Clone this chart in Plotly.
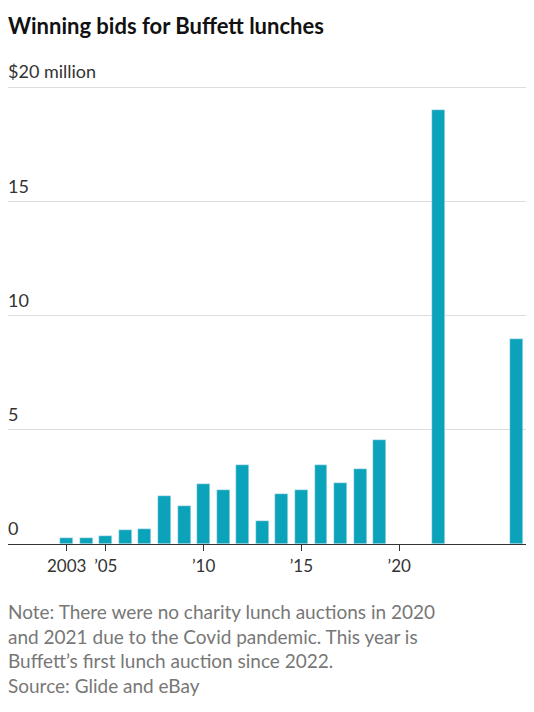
import plotly.graph_objects as go

years = [2003,2004,2005,2006,2007,2008,2009,2010,2011,2012,2013,2014,2015,2016,2017,2018,2019,2022,2026]
bids = [0.25,0.25,0.35,0.62,0.65,2.1,1.68,2.63,2.35,3.46,1.0,2.17,2.35,3.46,2.68,3.3,4.57,19.0,9.0]
ytick_vals = [0,5,10,15,20]
ytick_text = ["0","5","10","15","$20 million"]
xtick_vals = [2003,2005,2010,2015,2020]
xtick_text = ["2003","’05","’10","’15","’20"]

fig = go.Figure(go.Bar(x=years, y=bids, marker_color="#0ba3ba", width=0.66))

font = "Lato, Roboto, sans-serif"
for v, t in zip(ytick_vals, ytick_text):
    fig.add_annotation(x=0, xref="paper", y=v, yref="y", text=t, showarrow=False,
                       xanchor="left", yanchor="bottom", yshift=3, xshift=-2,
                       font=dict(size=18, color="#333", family=font))

fig.update_layout(
    width=534, height=712, margin=dict(l=0, r=0, t=76, b=176, autoexpand=False),
    plot_bgcolor="white", paper_bgcolor="white", showlegend=False, bargap=0,
    xaxis=dict(range=[2000.0, 2027.3], tickvals=xtick_vals, ticktext=xtick_text,
               showgrid=False, ticks="outside", ticklen=6, tickcolor="#333",
               showline=True, linecolor="#333", linewidth=1.3, automargin=False,
               tickfont=dict(size=17, color="#333", family=font)),
    yaxis=dict(range=[0, 20.15], tickvals=ytick_vals, showticklabels=False, automargin=False,
               showgrid=True, gridcolor="#ddd", zeroline=False),
)
fig.add_annotation(x=0, xref="paper", y=1, yref="paper", yshift=74, xanchor="left", yanchor="top",
                   showarrow=False, xshift=-2, text="<b>Winning bids for Buffett lunches</b>",
                   font=dict(size=22, color="#111", family=font))
fig.add_annotation(x=0, xref="paper", y=0, yref="paper", yshift=-54, xanchor="left", yanchor="top",
                   align="left", showarrow=False, xshift=-2,
                   text="Note: There were no charity lunch auctions in 2020<br>and 2021 due to the Covid pandemic. This year is<br>Buffett’s first lunch auction since 2022.<br>Source: Glide and eBay",
                   font=dict(size=19, color="#777", family=font))
fig.write_html("out.html")
